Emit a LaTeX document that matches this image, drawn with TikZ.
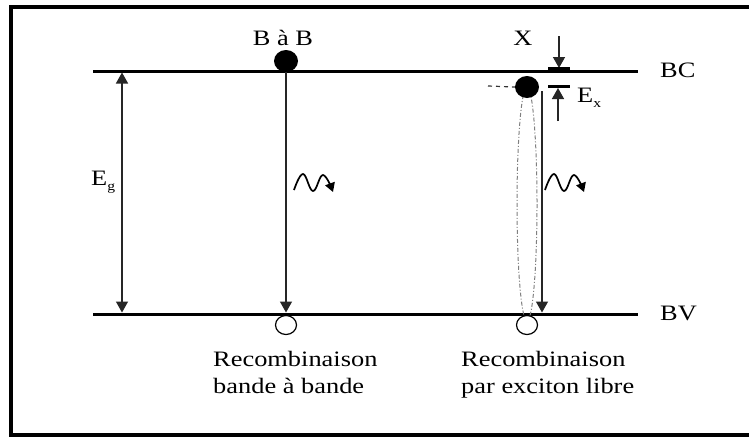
\documentclass[tikz,border=0pt]{standalone}
\usepackage{graphicx}
\usepackage{fontspec}
\setmainfont{Liberation Serif}
\usetikzlibrary{arrows.meta,shapes.geometric}
\newcommand\wtx[1]{\scalebox{1.2}[1]{#1}}
\newcommand\sbx[1]{\raisebox{-5pt}{\fontsize{13}{13}\selectfont #1}}
\begin{document}
\begin{tikzpicture}[x=1pt,y=-1pt,
  lbl/.style={inner sep=0pt, anchor=base west, font=\fontsize{22}{26}\selectfont},
  band/.style={line width=3pt},
  tip/.tip={Triangle[width=12pt,length=11pt]},
  tr/.style={line width=1.4pt, draw=black!85, -tip},
  dot/.style={ellipse, fill=black, minimum width=24pt, minimum height=22pt, inner sep=0pt},
  hole/.style={ellipse, draw=black, line width=1.2pt, fill=white, minimum width=21pt, minimum height=19pt, inner sep=0pt},
  bar/.style={line width=2.5pt},
  photon/.style={line width=1.7pt, -{Triangle[width=10pt,length=9pt]}},
  exc/.style={draw=black!50, line width=1pt, dash pattern=on 4pt off 2pt on 1pt off 2pt},
]
\useasboundingbox (0,0) rectangle (749,437);
\fill[white] (0,0) rectangle (749,437);
\draw[line width=3.5pt] (760,7) -- (11,7) -- (11,435) -- (760,435);

% bands
\coordinate (bcL) at (93,71);
\coordinate (bcR) at (638,71);
\coordinate (bvL) at (93,314);
\coordinate (bvR) at (638,314);
\draw[band] (bcL) -- (bcR);
\draw[band] (bvL) -- (bvR);
\node[lbl] (bc) at (660,77) {\wtx{BC}};
\node[lbl] (bv) at (660,320) {\wtx{BV}};

% Eg
\coordinate (egT) at (122,72.5);
\coordinate (egB) at (122,312.5);
\draw[tr, tip-tip] (egT) -- (egB);
\node[lbl] (eg) at (91,185) {\wtx{E\sbx{g}}};

% band to band
\node[lbl, anchor=base] (bab) at (283,45) {\wtx{B à B}};
\node[dot] (e1) at (286,61) {};
\coordinate (b1) at (286,312.5);
\draw[tr] (e1.south) -- (b1);
\node[hole] (h1) at (286,325) {};
\draw[photon] plot[smooth, tension=0.7] coordinates {(294,190) (303,174) (313,191) (323,175) (333,192)};

% exciton
\node[lbl, anchor=base] (xl) at (523,45) {\wtx{X}};
\draw[exc] (527,204) ellipse [x radius=10, y radius=117];
\node[dot] (e2) at (527,87) {};
\coordinate (dl) at (488,86);
\draw[black!80, line width=1.2pt, dash pattern=on 4pt off 4pt] (dl) -- (e2.west);
\coordinate (a2t) at (542,91);
\coordinate (a2b) at (542,312.5);
\draw[tr] (a2t) -- (a2b);
\node[hole] (h2) at (527,325) {};
\draw[photon] plot[smooth, tension=0.7] coordinates {(545,190) (554,174) (564,191) (574,175) (584,192)};

% X arrow and Ex
\coordinate (xT) at (559,36);
\coordinate (xB) at (559,68);
\draw[tr] (xT) -- (xB);
\draw[bar] (548,68.5) -- (570,68.5);
\coordinate (exB) at (558,121);
\coordinate (exT) at (558,88);
\draw[tr] (exB) -- (exT);
\draw[bar] (548,86.5) -- (570,86.5);
\node[lbl] (ex) at (577,102) {\wtx{E\sbx{x}}};

% captions
\node[lbl] (c1a) at (213,366) {\wtx{Recombinaison}};
\node[lbl] (c1b) at (213,393) {\wtx{bande à bande}};
\node[lbl] (c2a) at (461,366) {\wtx{Recombinaison}};
\node[lbl] (c2b) at (461,393) {\wtx{par exciton libre}};
\end{tikzpicture}
\end{document}
